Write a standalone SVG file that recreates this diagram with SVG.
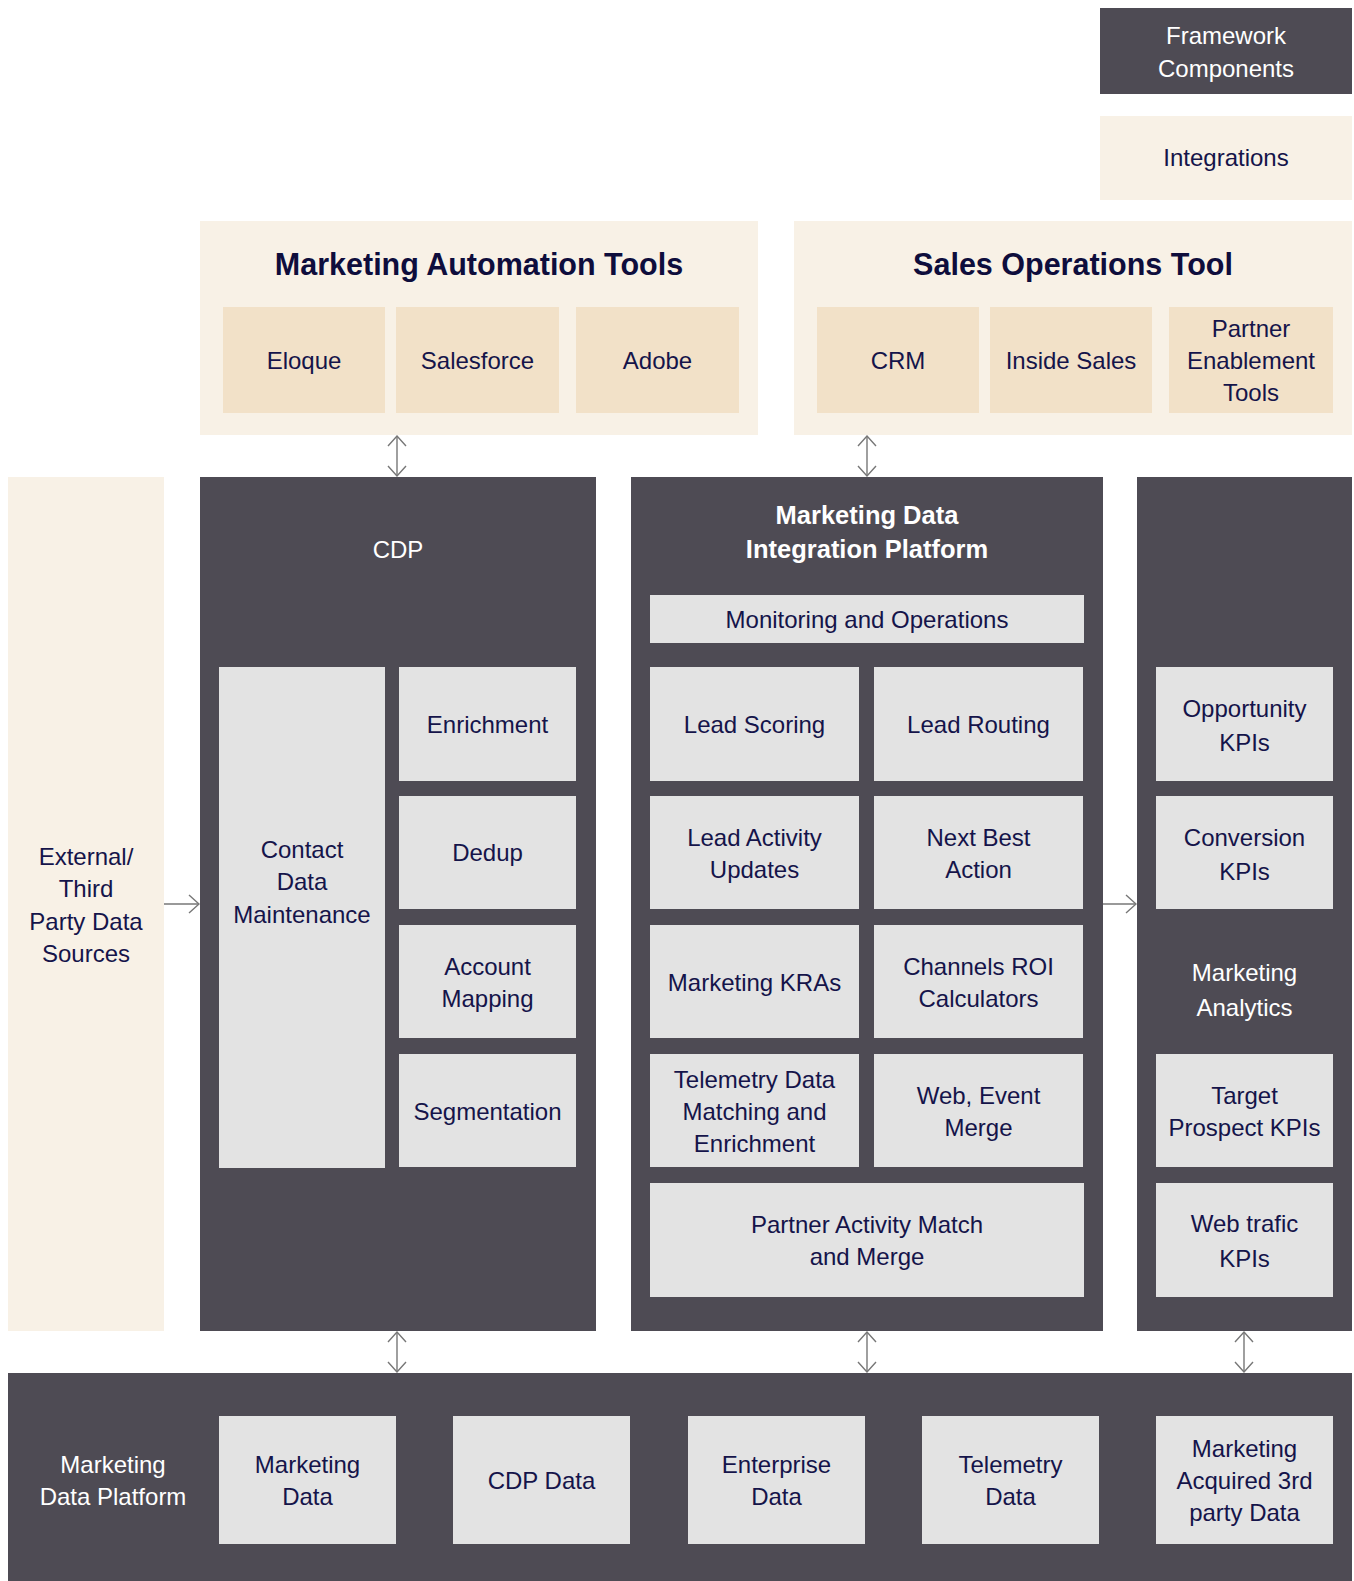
<svg xmlns="http://www.w3.org/2000/svg" width="1354" height="1581" viewBox="0 0 1354 1581">
<style>
.dark{fill:#4e4b54}
.cream{fill:#f8f1e6}
.tan{fill:#f2e1c8}
.grey{fill:#e3e3e3}
text{font-family:"Liberation Sans",Arial,sans-serif;text-anchor:middle}
.t{font-size:24px;fill:#15144a}
.w{font-size:24px;fill:#ffffff}
.wb{font-size:25.5px;fill:#ffffff;font-weight:bold}
.h{font-size:30.5px;fill:#0e0d3c;font-weight:bold}
.conn line{stroke:#777777;stroke-width:1.4;fill:none}
</style>
<defs>
<marker id="chev" viewBox="0 0 12 20" refX="11" refY="10" markerWidth="12" markerHeight="20" markerUnits="userSpaceOnUse" orient="auto-start-reverse">
<path d="M1,1 L11,10 L1,19" fill="none" stroke="#777777" stroke-width="1.4"/>
</marker>
</defs>
<rect width="1354" height="1581" fill="#ffffff"/>

<g id="legend-framework">
<rect class="dark" x="1100" y="8" width="252" height="86"/>
<text class="w" x="1226" y="44">Framework</text>
<text class="w" x="1226" y="77">Components</text>
</g>
<g id="legend-integrations">
<rect class="cream" x="1100" y="116" width="252" height="84"/>
<text class="t" x="1226" y="166">Integrations</text>
</g>

<g id="marketing-automation-tools">
<rect class="cream" x="200" y="221" width="558" height="214"/>
<text class="h" x="479" y="275">Marketing Automation Tools</text>
</g>
<g id="eloque"><rect class="tan" x="223" y="307" width="162" height="106"/><text class="t" x="304" y="369">Eloque</text></g>
<g id="salesforce"><rect class="tan" x="396" y="307" width="163" height="106"/><text class="t" x="477.5" y="369">Salesforce</text></g>
<g id="adobe"><rect class="tan" x="576" y="307" width="163" height="106"/><text class="t" x="657.5" y="369">Adobe</text></g>

<g id="sales-operations-tool">
<rect class="cream" x="794" y="221" width="558" height="214"/>
<text class="h" x="1073" y="275">Sales Operations Tool</text>
</g>
<g id="crm"><rect class="tan" x="817" y="307" width="162" height="106"/><text class="t" x="898" y="369">CRM</text></g>
<g id="inside-sales"><rect class="tan" x="990" y="307" width="162" height="106"/><text class="t" x="1071" y="369">Inside Sales</text></g>
<g id="partner-enablement"><rect class="tan" x="1169" y="307" width="164" height="106"/>
<text class="t" x="1251" y="337">Partner</text><text class="t" x="1251" y="369">Enablement</text><text class="t" x="1251" y="401">Tools</text></g>

<g id="external-sources">
<rect class="cream" x="8" y="477" width="156" height="854"/>
<text class="t" x="86" y="865">External/</text>
<text class="t" x="86" y="897">Third</text>
<text class="t" x="86" y="929.5">Party Data</text>
<text class="t" x="86" y="962">Sources</text>
</g>

<g id="cdp">
<rect class="dark" x="200" y="477" width="396" height="854"/>
<text class="w" x="398" y="558">CDP</text>
</g>
<g id="contact-data-maintenance"><rect class="grey" x="219" y="667" width="166" height="501"/>
<text class="t" x="302" y="858">Contact</text><text class="t" x="302" y="890">Data</text><text class="t" x="302" y="922.5">Maintenance</text></g>
<g id="enrichment"><rect class="grey" x="399" y="667" width="177" height="114"/><text class="t" x="487.5" y="733">Enrichment</text></g>
<g id="dedup"><rect class="grey" x="399" y="796" width="177" height="113"/><text class="t" x="487.5" y="861">Dedup</text></g>
<g id="account-mapping"><rect class="grey" x="399" y="925" width="177" height="113"/><text class="t" x="487.5" y="975">Account</text><text class="t" x="487.5" y="1007">Mapping</text></g>
<g id="segmentation"><rect class="grey" x="399" y="1054" width="177" height="113"/><text class="t" x="487.5" y="1120">Segmentation</text></g>

<g id="mdip">
<rect class="dark" x="631" y="477" width="472" height="854"/>
<text class="wb" x="867" y="524">Marketing Data</text>
<text class="wb" x="867" y="558">Integration Platform</text>
</g>
<g id="monitoring"><rect class="grey" x="650" y="595" width="434" height="48"/><text class="t" x="867" y="628">Monitoring and Operations</text></g>
<g id="lead-scoring"><rect class="grey" x="650" y="667" width="209" height="114"/><text class="t" x="754.5" y="733">Lead Scoring</text></g>
<g id="lead-routing"><rect class="grey" x="874" y="667" width="209" height="114"/><text class="t" x="978.5" y="733">Lead Routing</text></g>
<g id="lead-activity"><rect class="grey" x="650" y="796" width="209" height="113"/><text class="t" x="754.5" y="846">Lead Activity</text><text class="t" x="754.5" y="878">Updates</text></g>
<g id="next-best-action"><rect class="grey" x="874" y="796" width="209" height="113"/><text class="t" x="978.5" y="846">Next Best</text><text class="t" x="978.5" y="878">Action</text></g>
<g id="marketing-kras"><rect class="grey" x="650" y="925" width="209" height="113"/><text class="t" x="754.5" y="991">Marketing KRAs</text></g>
<g id="channels-roi"><rect class="grey" x="874" y="925" width="209" height="113"/><text class="t" x="978.5" y="975">Channels ROI</text><text class="t" x="978.5" y="1007">Calculators</text></g>
<g id="telemetry-matching"><rect class="grey" x="650" y="1054" width="209" height="113"/><text class="t" x="754.5" y="1088">Telemetry Data</text><text class="t" x="754.5" y="1120">Matching and</text><text class="t" x="754.5" y="1152">Enrichment</text></g>
<g id="web-event-merge"><rect class="grey" x="874" y="1054" width="209" height="113"/><text class="t" x="978.5" y="1104">Web, Event</text><text class="t" x="978.5" y="1136">Merge</text></g>
<g id="partner-activity"><rect class="grey" x="650" y="1183" width="434" height="114"/><text class="t" x="867" y="1233">Partner Activity Match</text><text class="t" x="867" y="1265">and Merge</text></g>

<g id="marketing-analytics">
<rect class="dark" x="1137" y="477" width="215" height="854"/>
<text class="w" x="1244.5" y="981">Marketing</text>
<text class="w" x="1244.5" y="1016">Analytics</text>
</g>
<g id="opportunity-kpis"><rect class="grey" x="1156" y="667" width="177" height="114"/><text class="t" x="1244.5" y="717">Opportunity</text><text class="t" x="1244.5" y="751">KPIs</text></g>
<g id="conversion-kpis"><rect class="grey" x="1156" y="796" width="177" height="113"/><text class="t" x="1244.5" y="846">Conversion</text><text class="t" x="1244.5" y="880">KPIs</text></g>
<g id="target-prospect-kpis"><rect class="grey" x="1156" y="1054" width="177" height="113"/><text class="t" x="1244.5" y="1104">Target</text><text class="t" x="1244.5" y="1136">Prospect KPIs</text></g>
<g id="web-trafic-kpis"><rect class="grey" x="1156" y="1183" width="177" height="114"/><text class="t" x="1244.5" y="1232">Web trafic</text><text class="t" x="1244.5" y="1267">KPIs</text></g>

<g id="marketing-data-platform">
<rect class="dark" x="8" y="1373" width="1344" height="208"/>
<text class="w" x="113" y="1473">Marketing</text>
<text class="w" x="113" y="1505">Data Platform</text>
</g>
<g id="marketing-data"><rect class="grey" x="219" y="1416" width="177" height="128"/><text class="t" x="307.5" y="1473">Marketing</text><text class="t" x="307.5" y="1505">Data</text></g>
<g id="cdp-data"><rect class="grey" x="453" y="1416" width="177" height="128"/><text class="t" x="541.5" y="1489">CDP Data</text></g>
<g id="enterprise-data"><rect class="grey" x="688" y="1416" width="177" height="128"/><text class="t" x="776.5" y="1473">Enterprise</text><text class="t" x="776.5" y="1505">Data</text></g>
<g id="telemetry-data"><rect class="grey" x="922" y="1416" width="177" height="128"/><text class="t" x="1010.5" y="1473">Telemetry</text><text class="t" x="1010.5" y="1505">Data</text></g>
<g id="acquired-3rd-party"><rect class="grey" x="1156" y="1416" width="177" height="128"/><text class="t" x="1244.5" y="1457">Marketing</text><text class="t" x="1244.5" y="1489">Acquired 3rd</text><text class="t" x="1244.5" y="1521">party Data</text></g>

<g id="connectors" class="conn">
<line x1="397" y1="436" x2="397" y2="476" marker-start="url(#chev)" marker-end="url(#chev)"/>
<line x1="867" y1="436" x2="867" y2="476" marker-start="url(#chev)" marker-end="url(#chev)"/>
<line x1="164" y1="904" x2="199" y2="904" marker-end="url(#chev)"/>
<line x1="1103" y1="904" x2="1136" y2="904" marker-end="url(#chev)"/>
<line x1="397" y1="1332" x2="397" y2="1372" marker-start="url(#chev)" marker-end="url(#chev)"/>
<line x1="867" y1="1332" x2="867" y2="1372" marker-start="url(#chev)" marker-end="url(#chev)"/>
<line x1="1244" y1="1332" x2="1244" y2="1372" marker-start="url(#chev)" marker-end="url(#chev)"/>
</g>
</svg>
